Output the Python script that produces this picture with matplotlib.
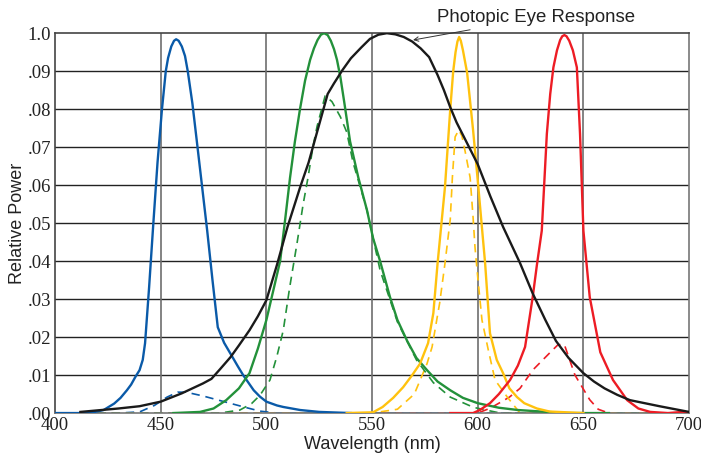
import matplotlib
matplotlib.use("Agg")
import matplotlib.pyplot as plt

# wavelength (nm) / relative power (0..1 of full scale)
eye_wl = [412, 430, 440, 450, 460, 470, 474, 478, 483, 487, 492, 496, 500, 505, 510, 516, 520, 523,
          526, 529, 532, 536, 540, 545, 549, 553, 557, 561, 565, 569, 573, 577, 581, 584, 587,
          590, 595, 600, 606, 612, 620, 626, 632, 637, 643, 650, 655, 660, 666, 672, 686, 700]
eye_pw = [0.003, 0.012, 0.018, 0.030, 0.052, 0.078, 0.09, 0.115, 0.147, 0.178, 0.218, 0.255,
          0.297, 0.39, 0.49, 0.595, 0.66, 0.72, 0.78, 0.84, 0.868, 0.903, 0.934, 0.963, 0.985,
          0.996, 1.0, 0.997, 0.99, 0.978, 0.96, 0.937, 0.89, 0.85, 0.805, 0.765, 0.71, 0.655,
          0.57, 0.49, 0.395, 0.315, 0.245, 0.19, 0.145, 0.105, 0.083, 0.065, 0.048, 0.034,
          0.018, 0.003]

blue_wl = [400, 413, 418, 423, 428, 431, 434, 436, 438, 440, 441.5, 442.6, 444.5, 446.4, 448.5,
           450.6, 452.4, 453.5, 455, 456.3, 457.3, 458.5, 460, 461.5, 462.8, 465, 467, 469.5,
           472, 474.5, 477, 480, 484, 486.5, 489, 491.5, 494, 497, 500, 505, 508, 516, 525, 540]
blue_pw = [0.0, 0.0, 0.002, 0.008, 0.025, 0.04, 0.06, 0.075, 0.095, 0.113, 0.14, 0.184, 0.33,
           0.49, 0.66, 0.80, 0.90, 0.935, 0.965, 0.98, 0.984, 0.98, 0.965, 0.94, 0.90, 0.815,
           0.72, 0.60, 0.48, 0.35, 0.226, 0.185, 0.147, 0.123, 0.1, 0.08, 0.06, 0.043, 0.03,
           0.02, 0.016, 0.008, 0.003, 0.0]
blue_dash_wl = [400, 430, 440, 447, 453, 458, 462, 470, 480, 490, 497, 505, 700]
blue_dash_pw = [0.0, 0.0, 0.003, 0.02, 0.042, 0.055, 0.055, 0.045, 0.03, 0.015, 0.005, 0.0, 0.0]

green_wl = [456, 468.6, 475, 481, 487, 492, 496, 500, 504, 506.5, 509, 511.2, 513.5, 515.9,
            518.3, 520.7, 522.5, 524.2, 525.8, 527.3, 529, 530.5, 532, 533.4, 535, 536.8,
            539.6, 543.5, 547.6, 550.5, 553.8, 558.5, 562, 566.6, 571, 576, 581, 587, 593,
            600, 610, 619, 630, 642, 662]
green_pw = [0.0, 0.003, 0.012, 0.034, 0.065, 0.105, 0.17, 0.245, 0.34, 0.40, 0.515, 0.62, 0.715,
            0.80, 0.875, 0.93, 0.96, 0.982, 0.996, 1.0, 0.995, 0.98, 0.958, 0.93, 0.885, 0.82,
            0.715, 0.62, 0.534, 0.46, 0.40, 0.305, 0.245, 0.19, 0.145, 0.113, 0.083, 0.06,
            0.04, 0.026, 0.014, 0.008, 0.004, 0.0, 0.0]
green_dash_wl = [400, 478, 487.5, 493, 497, 501.7, 505, 508, 511, 514.5, 517.4, 519.7, 522, 524,
                 527.8, 531, 535, 538, 541, 547.6, 553.8, 562, 571, 579, 587, 598, 610.6, 700]
green_dash_pw = [0.0, 0.0, 0.008, 0.025, 0.047, 0.087, 0.15, 0.218, 0.33, 0.447, 0.55, 0.62,
                 0.70, 0.755, 0.835, 0.82, 0.78, 0.74, 0.66, 0.534, 0.376, 0.24, 0.14, 0.08,
                 0.042, 0.015, 0.0, 0.0]

yellow_wl = [538, 550.5, 555, 560, 564.7, 569, 572.7, 576.5, 579, 581, 584.5, 587, 588.4, 589.5,
             590.4, 591.2, 592, 593, 594, 595, 596.4, 597.8, 600, 603.5, 605.8, 609, 612, 615,
             618.6, 622, 628, 634, 650]
yellow_pw = [0.0, 0.002, 0.016, 0.04, 0.068, 0.10, 0.13, 0.184, 0.263, 0.394, 0.595, 0.80, 0.90,
             0.95, 0.978, 0.99, 0.98, 0.955, 0.925, 0.895, 0.82, 0.745, 0.613, 0.394, 0.21, 0.14,
             0.105, 0.065, 0.042, 0.026, 0.012, 0.004, 0.0]
yellow_dash_wl = [400, 550, 562, 570, 576, 578.4, 582, 584.5, 587, 588, 589.3, 591, 592.5, 594,
                  596.4, 597.8, 598.7, 600, 602, 605, 608.2, 614, 620, 700]
yellow_dash_pw = [0.0, 0.0, 0.01, 0.05, 0.13, 0.174, 0.29, 0.394, 0.51, 0.62, 0.727, 0.745, 0.73,
                  0.69, 0.62, 0.515, 0.437, 0.358, 0.245, 0.166, 0.087, 0.042, 0.0, 0.0]

red_wl = [587, 597.8, 601, 605.8, 610, 615.3, 619, 622.4, 626, 628, 630.3, 632.7, 634.3, 635.8,
          637.5, 639, 640, 641, 642, 643.3, 645, 646.9, 648.4, 650, 653, 658, 664, 670.7, 676,
          681.6, 690, 697, 700]
red_pw = [0.0, 0.0, 0.008, 0.026, 0.05, 0.087, 0.125, 0.174, 0.305, 0.39, 0.48, 0.735, 0.84,
          0.91, 0.955, 0.982, 0.992, 0.995, 0.992, 0.98, 0.955, 0.91, 0.735, 0.48, 0.305, 0.16,
          0.087, 0.034, 0.012, 0.003, 0.0, 0.003, 0.0]
red_dash_wl = [400, 600, 606, 615, 620, 626, 634, 638, 641, 646, 653, 657, 662, 700]
red_dash_pw = [0.0, 0.0, 0.013, 0.042, 0.065, 0.113, 0.158, 0.18, 0.18, 0.1, 0.035, 0.01, 0.0, 0.0]

x_ticks = [400, 450, 500, 550, 600, 650, 700]
y_ticks = [0.0, 0.1, 0.2, 0.3, 0.4, 0.5, 0.6, 0.7, 0.8, 0.9, 1.0]
y_tick_labels = [".00", ".01", ".02", ".03", ".04", ".05", ".06", ".07", ".08", ".09", "1.0"]

BLUE = "#0a5aa8"
GREEN = "#23913a"
YELLOW = "#ffc20e"
RED = "#ed1c24"
BLACK = "#1a1a1a"

fig = plt.figure(figsize=(7.01, 4.61), dpi=100)
ax = fig.add_axes([0.0785, 0.104, 0.9045, 0.824])

for y in y_ticks[1:-1]:
    ax.axhline(y, color="#222222", lw=1.0, zorder=1)
for x in x_ticks[1:-1]:
    ax.axvline(x, color="#6e6e6e", lw=1.2, zorder=1)

dash = (0, (5, 3.5))
ax.plot(red_dash_wl, red_dash_pw, color=RED, lw=1.2, linestyle=dash, zorder=2)
ax.plot(blue_dash_wl, blue_dash_pw, color=BLUE, lw=1.2, linestyle=dash, zorder=2)
ax.plot(yellow_dash_wl, yellow_dash_pw, color=YELLOW, lw=1.2, linestyle=dash, zorder=2)
ax.plot(green_dash_wl, green_dash_pw, color=GREEN, lw=1.2, linestyle=dash, zorder=2)

ax.plot(blue_wl, blue_pw, color=BLUE, lw=1.7, zorder=3)
ax.plot(green_wl, green_pw, color=GREEN, lw=1.7, zorder=3)
ax.plot(yellow_wl, yellow_pw, color=YELLOW, lw=1.7, zorder=3)
ax.plot(red_wl, red_pw, color=RED, lw=1.7, zorder=3)
ax.plot(eye_wl, eye_pw, color=BLACK, lw=1.7, zorder=4)

ax.set_xlim(400, 700)
ax.set_ylim(0, 1.0)
ax.set_xticks(x_ticks)
ax.set_yticks(y_ticks)
ax.set_yticklabels(y_tick_labels)
ax.tick_params(length=0, pad=3)
for lab in ax.get_xticklabels() + ax.get_yticklabels():
    lab.set_fontfamily("Liberation Serif")
    lab.set_fontsize(13.5)
    lab.set_color("#222222")

for side in ["top", "left"]:
    ax.spines[side].set_color("#444444")
for side in ["bottom", "right"]:
    ax.spines[side].set_color("#777777")
for sp in ax.spines.values():
    sp.set_linewidth(1.2)

ax.set_xlabel("Wavelength (nm)", fontfamily="Liberation Sans", fontsize=13, color="#222222",
              labelpad=1)
ax.set_ylabel("Relative Power", fontfamily="Liberation Sans", fontsize=13, color="#222222",
              labelpad=1)

ax.annotate("Photopic Eye Response", xy=(569.4, 0.982), xytext=(580.5, 1.04),
            fontfamily="Liberation Sans", fontsize=13.4, color="#222222", va="center",
            annotation_clip=False,
            arrowprops=dict(arrowstyle="->", color="#333333", lw=0.7,
                            shrinkA=2, shrinkB=0, mutation_scale=8))

fig.savefig("out.png", dpi=100)
